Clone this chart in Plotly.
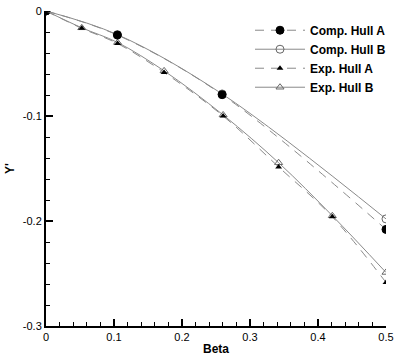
import plotly.graph_objects as go

# Data
comp_beta = [0.0, 0.105, 0.259, 0.5]
comp_hull_a = [0.0, -0.0229, -0.0797, -0.208]
comp_hull_b = [0.0, -0.0225, -0.0790, -0.198]

exp_beta = [0.0, 0.0526, 0.1053, 0.1737, 0.2605, 0.3421, 0.4211, 0.5]
exp_hull_a = [0.0, -0.0165, -0.0310, -0.0585, -0.1000, -0.1485, -0.1960, -0.2585]
exp_hull_b = [0.0, -0.0160, -0.0300, -0.0570, -0.0990, -0.1445, -0.1950, -0.2490]

x_ticks = [0, 0.1, 0.2, 0.3, 0.4, 0.5]
x_tick_labels = ["0", "0.1", "0.2", "0.3", "0.4", "0.5"]
y_ticks = [0, -0.1, -0.2, -0.3]
y_tick_labels = ["0", "-0.1", "-0.2", "-0.3"]

FONT = "Liberation Sans, Arial, sans-serif"
LINE_COLOR = "#8a8a8a"

fig = go.Figure()

# open markers drawn first, filled on top
fig.add_trace(go.Scatter(
    x=comp_beta, y=comp_hull_b, name="Comp. Hull B", mode="lines+markers", legendrank=2,
    line=dict(color=LINE_COLOR, width=1, shape="spline"),
    marker=dict(symbol="circle-open", size=8, color="#666666", line=dict(width=1)),
))
fig.add_trace(go.Scatter(
    x=exp_beta, y=exp_hull_b, name="Exp. Hull B", mode="lines+markers", legendrank=4,
    line=dict(color=LINE_COLOR, width=1, shape="spline"),
    marker=dict(symbol="triangle-up-open", size=7, color="#666666", line=dict(width=1)),
))
fig.add_trace(go.Scatter(
    x=comp_beta, y=comp_hull_a, name="Comp. Hull A", mode="lines+markers", legendrank=1,
    line=dict(color=LINE_COLOR, width=1, dash="9px,7px", shape="spline"),
    marker=dict(symbol="circle", size=8, color="black", line=dict(color="black", width=1)),
))
fig.add_trace(go.Scatter(
    x=exp_beta, y=exp_hull_a, name="Exp. Hull A", mode="lines+markers", legendrank=3,
    line=dict(color=LINE_COLOR, width=1, dash="9px,7px", shape="spline"),
    marker=dict(symbol="triangle-up", size=6, color="black"),
))

fig.update_layout(
    width=398, height=356,
    margin=dict(l=46, r=7, t=11, b=30),
    paper_bgcolor="white", plot_bgcolor="white",
    font=dict(family=FONT, size=11, color="black"),
    showlegend=True,
    legend=dict(
        x=0.6, y=0.985, xanchor="left", yanchor="top",
        bgcolor="rgba(0,0,0,0)", borderwidth=0,
        font=dict(family=FONT, size=12, color="black", weight="bold"),
        tracegroupgap=0, itemwidth=50, traceorder="normal",
    ),
    xaxis=dict(
        range=[0, 0.50001], showgrid=False, zeroline=False, automargin=False,
        showline=True, linecolor="black", linewidth=2,
        ticks="inside", ticklen=7, tickwidth=1.5, tickcolor="black",
        tickmode="array", tickvals=x_ticks, ticktext=x_tick_labels,
        tickfont=dict(size=11),
        minor=dict(dtick=0.02, tick0=0, ticks="inside", ticklen=4, tickwidth=1, tickcolor="black", showgrid=False),
        title=dict(text="Beta", font=dict(size=12, weight="bold"), standoff=2),
    ),
    yaxis=dict(
        range=[-0.3, 0], showgrid=False, zeroline=False, automargin=False,
        showline=True, linecolor="black", linewidth=2,
        ticks="inside", ticklen=7, tickwidth=1.5, tickcolor="black",
        tickmode="array", tickvals=y_ticks, ticktext=y_tick_labels,
        tickfont=dict(size=11),
        minor=dict(dtick=0.02, tick0=0, ticks="inside", ticklen=4, tickwidth=1, tickcolor="black", showgrid=False),
        title=dict(text="Y'", font=dict(size=12, weight="bold"), standoff=6),
    ),
)

fig.write_html("out.html")
